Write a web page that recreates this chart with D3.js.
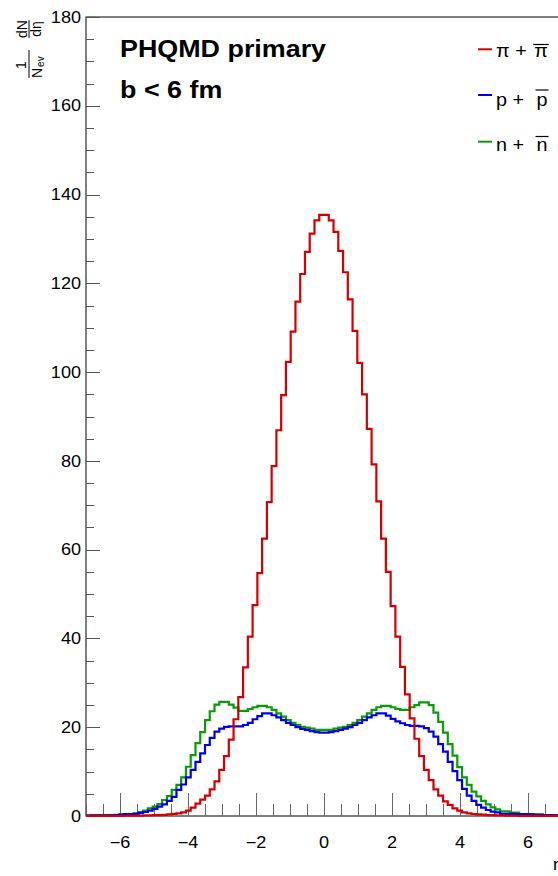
<!DOCTYPE html>
<html>
<head>
<meta charset="utf-8">
<script src="https://cdn.jsdelivr.net/npm/d3@7"></script>
<style>
  body { margin: 0; background: #fff; }
  svg { display: block; font-family: "Liberation Sans", Arial, Helvetica, sans-serif; }
</style>
</head>
<body>
<div id="chart"></div>
<script>
// eta binning: 100 bins from -7 to 7
const etaMin = -7;
const etaMax = 7;
const nBins = 100;

// 1/Nev dN/deta per bin
const piValues = [
    0.02, 0.02, 0.02, 0.03, 0.03, 0.04, 0.05, 0.05, 0.06, 0.08,
    0.1, 0.1, 0.12, 0.15, 0.18, 0.2, 0.25, 0.35, 0.5, 0.6,
    0.8, 1.2, 1.9, 2.8, 3.7, 4.6, 6.0, 7.8, 10.4, 13.5,
    17.2, 21.8, 26.8, 33.5, 40.4, 47.5, 54.7, 62.5, 70.7, 78.8,
    86.9, 94.8, 102.3, 109.1, 115.9, 122.1, 127.1, 131.2, 134.2, 135.4,
    135.4, 134.2, 131.6, 127.3, 122.5, 116.4, 109.3, 102.1, 95.0, 87.2,
    79.2, 70.9, 62.5, 55.0, 47.3, 40.4, 33.6, 27.4, 22.0, 17.4,
    13.5, 10.4, 8.1, 6.0, 4.6, 3.3, 2.5, 1.7, 1.2, 0.8,
    0.6, 0.45, 0.35, 0.3, 0.2, 0.2, 0.15, 0.12, 0.1, 0.08,
    0.06, 0.05, 0.05, 0.04, 0.03, 0.03, 0.02, 0.02, 0.02, 0.02
];
const pValues = [
    0.1, 0.12, 0.12, 0.14, 0.15, 0.15, 0.2, 0.3, 0.4, 0.45,
    0.5, 0.7, 0.9, 1.2, 1.6, 2.1, 2.6, 3.4, 4.3, 5.9,
    7.1, 8.7, 10.4, 12.2, 14.1, 16.0, 17.6, 19.0, 19.7, 20.1,
    20.2, 20.2, 20.2, 20.5, 21.0, 21.8, 22.5, 23.1, 23.1, 22.7,
    22.2, 21.6, 21.0, 20.5, 20.0, 19.6, 19.4, 19.1, 18.9, 18.8,
    18.8, 18.9, 19.1, 19.4, 19.7, 20.0, 20.5, 21.0, 21.6, 22.2,
    22.7, 23.1, 23.1, 22.6, 21.9, 21.3, 20.9, 20.5, 20.3, 20.3,
    20.2, 19.8, 19.0, 17.9, 16.2, 14.5, 12.2, 10.1, 8.1, 6.1,
    4.6, 3.4, 2.5, 1.9, 1.35, 1.0, 0.8, 0.5, 0.5, 0.5,
    0.45, 0.4, 0.4, 0.35, 0.3, 0.3, 0.2, 0.2, 0.15, 0.15
];
const nValues = [
    0.1, 0.12, 0.12, 0.14, 0.15, 0.2, 0.25, 0.35, 0.4, 0.45,
    0.6, 0.9, 1.2, 1.7, 2.1, 2.7, 3.6, 4.5, 5.9, 7.0,
    8.7, 11.1, 13.7, 16.4, 18.9, 21.6, 23.6, 25.1, 25.7, 25.7,
    25.1, 24.4, 23.7, 23.7, 24.1, 24.5, 24.8, 24.8, 24.5, 23.9,
    23.1, 22.4, 21.6, 21.0, 20.5, 20.1, 19.9, 19.7, 19.4, 19.4,
    19.4, 19.4, 19.7, 19.9, 20.1, 20.5, 21.0, 21.6, 22.4, 23.1,
    23.9, 24.5, 24.8, 24.8, 24.5, 24.1, 23.9, 23.9, 24.5, 25.0,
    25.6, 25.6, 25.0, 23.3, 21.2, 18.8, 16.2, 13.6, 11.0, 8.7,
    7.0, 5.5, 4.4, 3.4, 2.6, 1.95, 1.5, 1.05, 1.05, 0.75,
    0.75, 0.45, 0.45, 0.45, 0.3, 0.25, 0.2, 0.2, 0.15, 0.15
];

const xTickValues = [-6, -4, -2, 0, 2, 4, 6];
const yTickValues = [0, 20, 40, 60, 80, 100, 120, 140, 160, 180];

const legendNames = ["π", "p", "n"];
const legendColors = ["#d40000", "#0000e6", "#0a9a0a"];

function stretchedText(parent, x, y, str, size, anchor, sx) {
    return parent.append("text")
        .attr("transform", `translate(${x},${y}) scale(${sx},1)`)
        .attr("text-anchor", anchor)
        .attr("font-size", size)
        .text(str);
}

function renderChart() {
    const width = 558, height = 876;
    const svg = d3.select("#chart").append("svg")
        .attr("width", width).attr("height", height);

    const x = d3.scaleLinear().domain([etaMin, etaMax]).range([86, 562]);
    const y = d3.scaleLinear().domain([0, 180]).range([816, 17]);

    // frame
    svg.append("rect")
        .attr("x", x(etaMin)).attr("y", y(180))
        .attr("width", x(etaMax) - x(etaMin)).attr("height", y(0) - y(180))
        .attr("fill", "none").attr("stroke", "#000").attr("stroke-width", 1);

    // x ticks, drawn upward inside the frame
    const xMinor = d3.range(etaMin, etaMax + 0.001, 0.5);
    svg.append("g").selectAll("line")
        .data(xMinor)
        .enter().append("line")
        .attr("x1", d => Math.round(x(d)) + 0.5).attr("x2", d => Math.round(x(d)) + 0.5)
        .attr("y1", y(0))
        .attr("y2", d => xTickValues.includes(d) ? y(0) - 23 : y(0) - 12)
        .attr("stroke", "#666");

    // y ticks, drawn rightward
    const yMinor = d3.range(0, 180.001, 5);
    svg.append("g").selectAll("line")
        .data(yMinor)
        .enter().append("line")
        .attr("x1", x(etaMin))
        .attr("x2", d => yTickValues.includes(d) ? x(etaMin) + 14 : x(etaMin) + 8)
        .attr("y1", d => Math.round(y(d)) + 0.5).attr("y2", d => Math.round(y(d)) + 0.5)
        .attr("stroke", "#555");

    // tick labels
    const xl = svg.append("g").attr("fill", "#000");
    xTickValues.forEach(v => {
        const s = v < 0 ? "\u2212" + Math.abs(v) : String(v);
        stretchedText(xl, x(v), 848, s, 16, "middle", 1.13);
    });
    const yl = svg.append("g").attr("fill", "#000");
    yTickValues.forEach(v => {
        stretchedText(yl, 81, y(v) + 5.7, String(v), 16, "end", 1.13);
    });

    // axis titles
    stretchedText(svg, 563, 870, "η", 16, "end", 1.13);

    const yt = svg.append("g").attr("transform", "translate(29,78) rotate(-90)");
    yt.append("text").attr("x", 13).attr("y", -3).attr("text-anchor", "middle")
        .attr("font-size", 14).text("1");
    yt.append("line").attr("x1", 0).attr("x2", 28).attr("y1", 0).attr("y2", 0)
        .attr("stroke", "#000").attr("stroke-width", 1);
    const nev = yt.append("text").attr("x", 0).attr("y", 13).attr("font-size", 14);
    nev.append("tspan").text("N");
    nev.append("tspan").attr("font-size", 10).attr("dy", 2).attr("dx", 1).text("ev");
    yt.append("text").attr("x", 49).attr("y", -2).attr("text-anchor", "middle")
        .attr("font-size", 14).text("dN");
    yt.append("line").attr("x1", 40).attr("x2", 58).attr("y1", 0).attr("y2", 0)
        .attr("stroke", "#000").attr("stroke-width", 1);
    yt.append("text").attr("x", 49).attr("y", 12).attr("text-anchor", "middle")
        .attr("font-size", 14).text("dη");

    // histograms as step lines
    const edges = d3.range(nBins + 1).map(i => etaMin + (etaMax - etaMin) * i / nBins);
    const line = d3.line()
        .x(d => x(d[0]))
        .y(d => y(d[1]))
        .curve(d3.curveStepAfter);
    const series = [nValues, pValues, piValues];
    const colors = [legendColors[2], legendColors[1], legendColors[0]];
    series.forEach((vals, k) => {
        const pts = vals.map((v, i) => [edges[i], v]);
        pts.push([edges[nBins], vals[nBins - 1]]);
        svg.append("path")
            .attr("d", line(pts))
            .attr("fill", "none")
            .attr("stroke", colors[k])
            .attr("stroke-width", 2.2);
    });

    // labels in the top left
    const title = svg.append("g").attr("font-weight", "bold").attr("fill", "#000");
    stretchedText(title, 120, 57, "PHQMD primary", 24, "start", 1.12);
    stretchedText(title, 120, 98, "b < 6 fm", 24, "start", 1.12);

    // legend
    const lineY = [49.3, 95, 141.7];
    const baseY = [57, 106, 151];
    const barY = [44.5, 90, 136.5];
    const extraGap = [2, 7, 7];
    const lg = svg.append("g");
    legendNames.forEach((name, i) => {
        lg.append("line")
            .attr("x1", 478).attr("x2", 492)
            .attr("y1", lineY[i]).attr("y2", lineY[i])
            .attr("stroke", legendColors[i]).attr("stroke-width", 2);
        const t1 = stretchedText(lg, 496, baseY[i], name + " + ", 18, "start", 1.1)
            .attr("xml:space", "preserve").style("white-space", "pre");
        const w1 = t1.node().getComputedTextLength() * 1.1;
        const x2 = 496 + w1 + extraGap[i];
        const t2 = stretchedText(lg, x2, baseY[i], name, 18, "start", 1.1);
        const w2 = t2.node().getComputedTextLength() * 1.1;
        lg.append("line")
            .attr("x1", x2 - 1).attr("x2", x2 + w2 + 1)
            .attr("y1", barY[i]).attr("y2", barY[i])
            .attr("stroke", "#000").attr("stroke-width", 1.2);
    });
}

renderChart();
</script>
</body>
</html>
